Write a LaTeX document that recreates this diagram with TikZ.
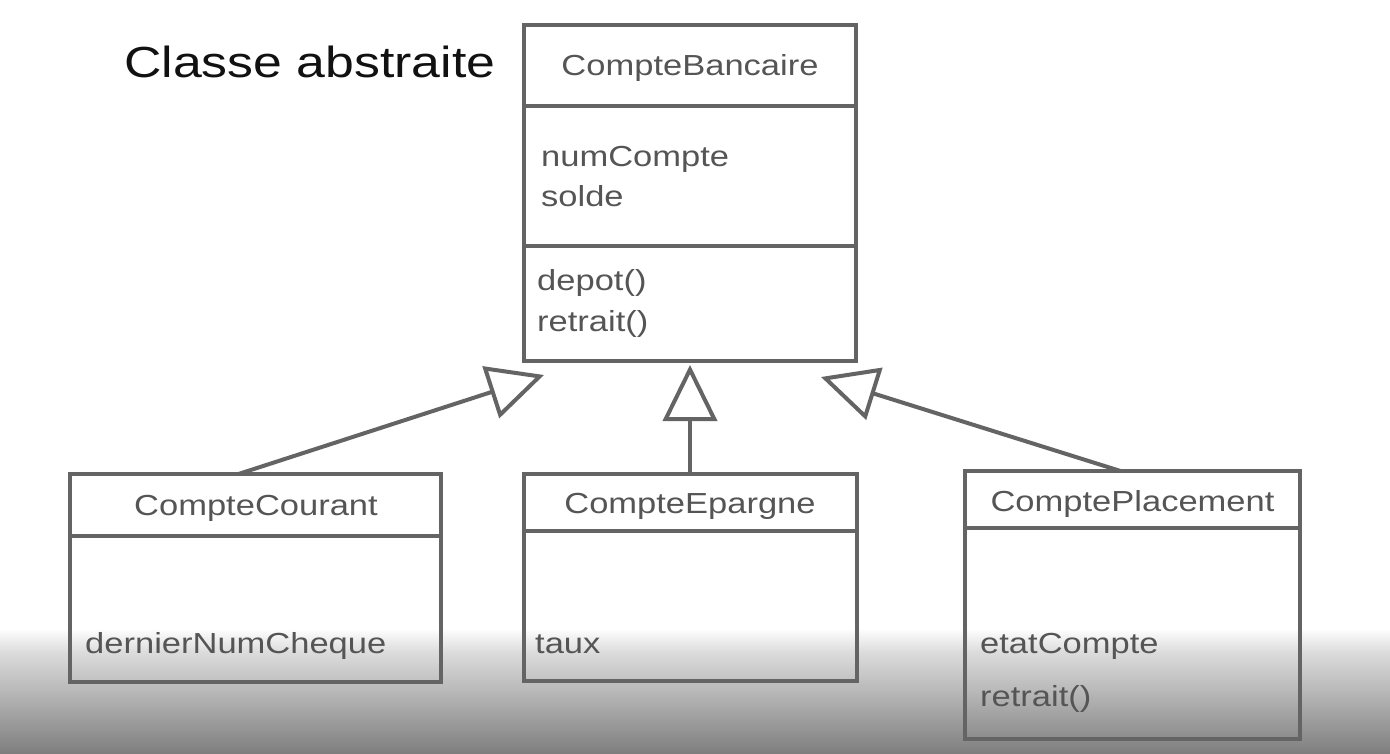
\documentclass[tikz,border=0pt]{standalone}
\usepackage{fontspec}
\setmainfont[FakeStretch=1.19]{Liberation Sans}
\usetikzlibrary{arrows.meta,calc}
\definecolor{linec}{HTML}{646464}
\definecolor{txtc}{HTML}{555555}
\definecolor{titlec}{HTML}{111111}
\definecolor{gradmid}{HTML}{DCDCDC}
\definecolor{gradbot}{HTML}{7E7E7E}
\tikzset{
  classbox/.style={draw=linec, line width=4pt, rectangle, inner sep=0pt, outer sep=0pt},
  divider/.style={draw=linec, line width=4pt},
  clsname/.style={text=txtc, font=\fontsize{29}{34}\selectfont, anchor=base, inner sep=0pt},
  member/.style={text=txtc, font=\fontsize{29}{34}\selectfont, anchor=base west, inner sep=0pt},
  inh/.style={draw=linec, line width=4pt, -{Triangle[open, length=56pt, width=54pt]}},
  heading/.style={text=titlec, font=\fontsize{43.5}{50}\selectfont, anchor=base west, inner sep=0pt}
}
\begin{document}
\begin{tikzpicture}[x=1pt, y=-1pt]
\useasboundingbox (0,0) rectangle (1390,753);
% background and bottom fade
\fill[white] (0,0) rectangle (1390,753);
\shade[top color=white, bottom color=gradmid] (0,628) rectangle (1390,652);
\shade[top color=gradmid, bottom color=gradbot] (0,652) rectangle (1390,753.5);

% heading
\node[heading] (head) at (124,77) {Classe abstraite};

% CompteBancaire
\node[classbox, minimum width=332pt, minimum height=336pt] (cb) at (690,193) {};
\draw[divider] ($(cb.north west)+(0,81)$) -- ($(cb.north east)+(0,81)$);
\draw[divider] ($(cb.north west)+(0,221)$) -- ($(cb.north east)+(0,221)$);
\node[clsname] (cbt) at (690,75) {CompteBancaire};
\node[member] (cba1) at (541,166) {numCompte};
\node[member] (cba2) at (541,206) {solde};
\node[member] (cbm1) at (537,290) {depot()};
\node[member] (cbm2) at (537,331) {retrait()};

% CompteCourant
\node[classbox, minimum width=371pt, minimum height=208pt] (cc) at (255.5,578) {};
\draw[divider] ($(cc.north west)+(0,62)$) -- ($(cc.north east)+(0,62)$);
\node[clsname] (cct) at (256,515) {CompteCourant};
\node[member] (cca1) at (85,653) {dernierNumCheque};

% CompteEpargne
\node[classbox, minimum width=333pt, minimum height=207pt] (ce) at (690,577.5) {};
\draw[divider] ($(ce.north west)+(0,57)$) -- ($(ce.north east)+(0,57)$);
\node[clsname] (cet) at (690,513) {CompteEpargne};
\node[member] (cea1) at (535,653) {taux};

% ComptePlacement
\node[classbox, minimum width=335pt, minimum height=268pt] (cp) at (1132.5,605) {};
\draw[divider] ($(cp.north west)+(0,57)$) -- ($(cp.north east)+(0,57)$);
\node[clsname] (cpt) at (1132.5,511) {ComptePlacement};
\node[member] (cpa1) at (980,653) {etatCompte};
\node[member] (cpm1) at (980,706) {retrait()};

% inheritance connectors
\coordinate (t1) at ($(cb.south west)+(20,14)$);
\coordinate (t2) at ($(cb.south east)+(-35,16)$);
\coordinate (t3) at ($(cb.south)+(0,4)$);
\draw[inh] ($(cc.north)+(-17,0)$) -- (t1);
\draw[inh] (ce.north) -- (t3);
\draw[inh] ($(cp.north)+(-12,0)$) -- (t2);
\end{tikzpicture}
\end{document}
